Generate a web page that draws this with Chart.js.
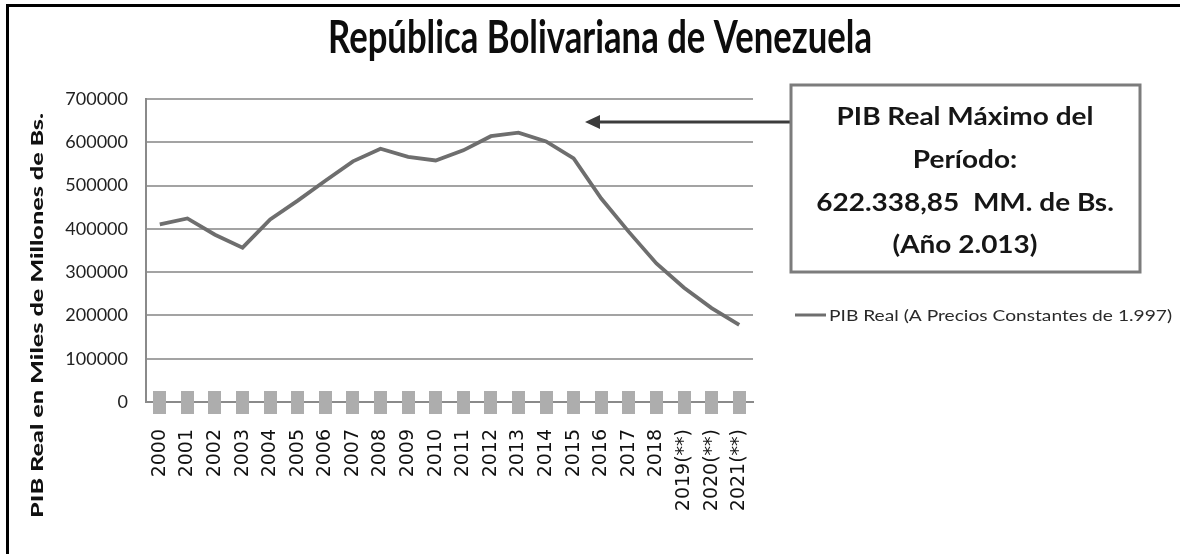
<!DOCTYPE html>
<html>
<head>
<meta charset="utf-8">
<script src="https://cdn.jsdelivr.net/npm/chart.js@4.4.1/dist/chart.umd.min.js"></script>
<style>
html,body{margin:0;padding:0;background:#fff;}
#wrap{position:relative;width:1180px;height:554px;}
</style>
</head>
<body>
<div id="wrap"><canvas id="c"></canvas></div>
<script>
// ---- data ----
const years = ['2000','2001','2002','2003','2004','2005','2006','2007','2008','2009','2010',
               '2011','2012','2013','2014','2015','2016','2017','2018','2019(**)','2020(**)','2021(**)'];
const pibReal = [410133, 424054, 386501, 356527, 421723, 465236, 511165, 555911, 585251, 566509, 558075,
                 581383, 614091, 622339, 602000, 563000, 470000, 393000, 320000, 264000, 217000, 178000];
const marcadores = [0,0,0,0,0,0,0,0,0,0,0,0,0,0,0,0,0,0,0,0,0,0];
const yTicks = [0, 100000, 200000, 300000, 400000, 500000, 600000, 700000];
const serieLabel = 'PIB Real (A Precios Constantes de 1.997)';
const titulo = 'República Bolivariana de Venezuela';
const ejeY = 'PIB Real en Miles de Millones de Bs.';
const nota = ['PIB Real Máximo del', 'Período:', '622.338,85  MM. de Bs.', '(Año 2.013)'];

// marker image (tall grey rectangle)
const sq = document.createElement('canvas');
sq.width = 13; sq.height = 23;
const sg = sq.getContext('2d');
sg.fillStyle = '#adadad';
sg.fillRect(0, 0, 13, 23);

function fitText(ctx, text, x, y, font, w, align) {
  ctx.font = font;
  const m = ctx.measureText(text).width;
  const s = w / m;
  ctx.save();
  ctx.translate(x, y);
  ctx.scale(s, 1);
  ctx.textAlign = align;
  ctx.fillText(text, 0, 0);
  ctx.restore();
  return s;
}

const decor = {
  id: 'decor',
  beforeDraw(chart) {
    const ctx = chart.ctx;
    ctx.save();
    ctx.fillStyle = '#fff';
    ctx.fillRect(0, 0, chart.width, chart.height);
    ctx.restore();
  },
  afterDraw(chart) {
    const ctx = chart.ctx;
    ctx.save();
    // outer frame (top + left)
    ctx.strokeStyle = '#000';
    ctx.lineWidth = 3;
    ctx.beginPath();
    ctx.moveTo(7.5, 554); ctx.lineTo(7.5, 5.5); ctx.lineTo(1180, 5.5);
    ctx.stroke();

    // title
    ctx.fillStyle = '#0d0d0d';
    ctx.textBaseline = 'alphabetic';
    fitText(ctx, titulo, 600, 53, 'bold 45px Lato', 544, 'center');

    // y-axis title
    ctx.save();
    ctx.translate(38, 315.5);
    ctx.rotate(-Math.PI / 2);
    ctx.textBaseline = 'middle';
    ctx.fillStyle = '#111';
    fitText(ctx, ejeY, 0, 0, '900 16px Lato', 405, 'center');
    ctx.restore();

    // arrow
    ctx.strokeStyle = '#3c3c3c';
    ctx.fillStyle = '#3c3c3c';
    ctx.lineWidth = 3;
    ctx.beginPath();
    ctx.moveTo(791, 122); ctx.lineTo(596, 122);
    ctx.stroke();
    ctx.beginPath();
    ctx.moveTo(585, 122); ctx.lineTo(600, 115); ctx.lineTo(600, 129); ctx.closePath();
    ctx.fill();

    // box
    ctx.fillStyle = '#fff';
    ctx.fillRect(791, 85, 349, 187);
    ctx.strokeStyle = '#7c7c7c';
    ctx.lineWidth = 3;
    ctx.strokeRect(791, 85, 349, 187);

    // box text
    ctx.fillStyle = '#161616';
    ctx.textBaseline = 'alphabetic';
    ctx.font = 'bold 24px Lato';
    const sc = 257 / ctx.measureText(nota[0]).width;
    const bases = [125, 168, 211, 253];
    nota.forEach((t, i) => {
      ctx.save();
      ctx.translate(965, bases[i]);
      ctx.scale(sc, 1);
      ctx.textAlign = 'center';
      ctx.fillText(t, 0, 0);
      ctx.restore();
    });

    // legend
    ctx.strokeStyle = '#6e6e6e';
    ctx.lineWidth = 3;
    ctx.beginPath();
    ctx.moveTo(795, 315); ctx.lineTo(826, 315);
    ctx.stroke();
    ctx.fillStyle = '#2a2a2a';
    ctx.textBaseline = 'middle';
    fitText(ctx, chart.data.datasets[0].label, 829, 316, '16px Lato', 343, 'left');

    ctx.restore();
  }
};

new Chart(document.getElementById('c'), {
  type: 'line',
  data: {
    labels: years,
    datasets: [
      { label: serieLabel, data: pibReal, borderColor: '#6e6e6e', borderWidth: 3.8,
        pointRadius: 0, tension: 0, fill: false, order: 1 },
      { label: '', data: marcadores, showLine: false, pointStyle: sq, pointRadius: 8,
        borderWidth: 0, backgroundColor: '#adadad', clip: false, order: 2 }
    ]
  },
  options: {
    responsive: true,
    maintainAspectRatio: false,
    animation: false,
    events: [],
    layout: { padding: { top: 99, right: 427, bottom: 0, left: 0 } },
    plugins: { legend: { display: false }, title: { display: false }, tooltip: { enabled: false } },
    scales: {
      x: {
        offset: true,
        grid: { display: false, drawTicks: false },
        border: { display: true, color: '#8a8a8a', width: 2 },
        ticks: { minRotation: 90, maxRotation: 90, padding: 27, autoSkip: false,
                 color: '#111', font: { family: 'DejaVu Sans', size: 19 } },
        afterFit(s) { s.height = 152; }
      },
      y: {
        min: 0, max: 700000,
        afterBuildTicks(s) { s.ticks = yTicks.map(v => ({ value: v })); },
        grid: { color: '#a3a3a3', lineWidth: 2, drawTicks: false },
        border: { display: true, color: '#8a8a8a', width: 2 },
        ticks: { padding: 18, color: '#222', font: { family: 'Lato', size: 18 },
                 callback: v => String(v) },
        afterFit(s) { s.width = 146; }
      }
    }
  },
  plugins: [decor]
});
</script>
</body>
</html>
